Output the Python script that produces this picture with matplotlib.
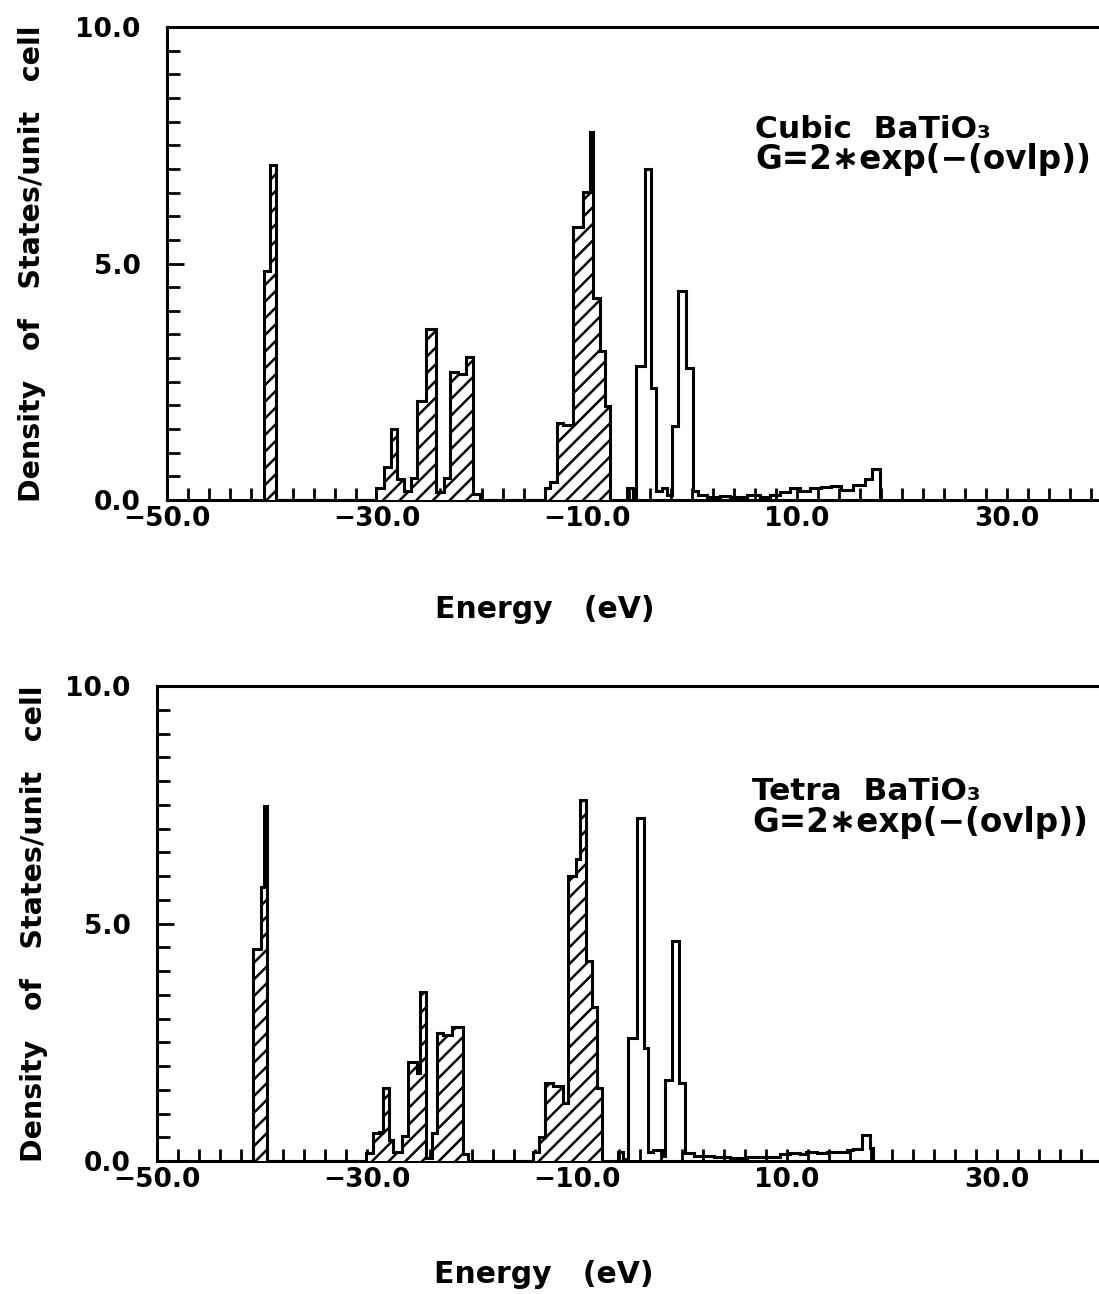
"""
Density of states histograms for cubic and tetragonal BaTiO3.
Hatched bins = occupied states (below E_F), open bins = empty states.
Writes out.png.
"""

import numpy as np
import matplotlib
matplotlib.use("Agg")
import matplotlib.pyplot as plt

# ══════════════════════════════════════════════════════════════════════════════
# DATA  (bin edges in eV, DOS per unit cell)
# ══════════════════════════════════════════════════════════════════════════════

# ── Cubic ────────────────────────────────────────────────────────────────────
cubic_occ_edges = [-40.8, -40.15, -39.6,
                   -30.1, -29.3, -28.65, -28.1, -27.4, -26.8, -26.2, -25.35,
                   -24.4, -23.6, -23.05, -22.3, -21.55, -20.85, -20.2,
                   -14.0, -13.5, -12.9, -12.25, -11.3, -10.35, -9.7, -9.4,
                   -8.75, -8.3, -7.8]
cubic_occ_dos = [4.84, 7.09,
                 0.0,
                 0.26, 0.69, 1.50, 0.44, 0.19, 0.47, 2.10, 3.62,
                 0.16, 0.47, 2.70, 2.67, 3.02, 0.12,
                 0.0,
                 0.25, 0.39, 1.63, 1.59, 5.77, 6.51, 7.78, 4.28,
                 3.15, 1.98]

cubic_emp_edges = [-6.2, -5.6, -5.35, -4.5, -3.95, -3.45, -2.9, -2.4, -1.95,
                   -1.3, -0.55, 0.05, 0.6, 1.4, 2.65, 3.6, 5.2, 6.5, 7.45,
                   8.4, 9.35, 10.3, 11.25, 12.25, 13.2, 14.15, 15.35, 16.5,
                   17.1, 17.9]
cubic_emp_dos = [0.25, 0.05, 2.83, 7.0, 2.37, 0.18, 0.25, 0.1,
                 1.56, 4.42, 2.8, 0.18, 0.11, 0.07, 0.08, 0.07, 0.1, 0.07,
                 0.1, 0.16, 0.25, 0.18, 0.25, 0.28, 0.3, 0.21, 0.32,
                 0.44, 0.65]

# ── Tetragonal ───────────────────────────────────────────────────────────────
tetra_occ_edges = [-40.85, -40.1, -39.85, -39.5,
                   -30.05, -29.4, -28.9, -28.45, -27.95, -27.5, -26.7, -26.05,
                   -25.25, -24.95, -24.4, -23.85, -23.35, -22.75, -21.95,
                   -20.85, -20.35,
                   -14.15, -13.6, -13.05, -12.25, -11.3, -10.85, -10.05, -9.7,
                   -9.1, -8.6, -8.1, -7.65]
tetra_occ_dos = [4.47, 5.76, 7.47,
                 0.0,
                 0.17, 0.59, 0.62, 1.54, 0.45, 0.2, 0.52, 2.09,
                 1.85, 3.56, 0.07, 0.59, 2.69, 2.65, 2.83, 0.14,
                 0.0,
                 0.2, 0.5, 1.64, 1.57, 1.22, 6.0, 6.35, 7.6,
                 4.22, 3.24, 1.54]

tetra_emp_edges = [-6.05, -5.6, -5.1, -4.3, -3.6, -3.2, -2.75, -1.8, -1.6,
                   -0.98, -0.25, 0.3, 1.1, 3.0, 4.55, 6.15, 7.75, 9.35, 10.3,
                   11.25, 11.85, 12.85, 13.8, 14.75, 15.7, 16.3, 17.1, 17.9,
                   18.2]
tetra_emp_dos = [0.2, 0.05, 2.58, 7.22, 2.37, 0.2, 0.24, 0.1, 1.7, 4.64,
                 1.64, 0.17, 0.1, 0.09, 0.07, 0.08, 0.08, 0.14, 0.17, 0.14,
                 0.2, 0.17, 0.2, 0.18, 0.24, 0.26, 0.55, 0.28]

panel_titles = ["Cubic  BaTiO\u2083", "Tetra  BaTiO\u2083"]
panel_note   = "G=2\u2217exp(\u2212(ovlp))"
x_labelled   = [-50, -30, -10, 10, 30]   # 50.0 falls off the cropped edge

# ══════════════════════════════════════════════════════════════════════════════
# STYLE
# ══════════════════════════════════════════════════════════════════════════════
W, H = 1099, 1294
LW   = 2.2
plt.rcParams["font.family"] = "DejaVu Sans"
plt.rcParams["font.weight"] = "bold"
plt.rcParams["hatch.linewidth"] = 1.8
plt.rcParams["hatch.color"] = "black"


def draw_panel(ax, occ_edges, occ_dos, emp_edges, emp_dos, title,
               ylab_x, xlab_pos, text_xy):
    ax.stairs(occ_dos, occ_edges, baseline=0, fill=True,
              facecolor="white", edgecolor="black", hatch="//",
              linewidth=LW, zorder=3)
    ax.stairs(emp_dos, emp_edges, baseline=0, fill=True,
              facecolor="none", edgecolor="black", linewidth=LW, zorder=3)

    ax.set_xlim(-50, 50)
    ax.set_ylim(0, 10)
    for side in ("top", "bottom", "left"):
        ax.spines[side].set_linewidth(LW)
    ax.spines["right"].set_visible(False)

    ax.set_xticks(x_labelled)
    ax.set_xticklabels([f"{v:.1f}".replace("-", "\u2212") for v in x_labelled])
    ax.set_xticks(np.arange(-50, 51, 2), minor=True)
    ax.set_yticks([0, 5, 10])
    ax.set_yticklabels(["0.0", "5.0", "10.0"])
    ax.set_yticks(np.arange(0, 10.01, 0.5), minor=True)

    ax.tick_params(axis="x", which="both", direction="in", length=9,
                   width=2, labelsize=19, pad=4, top=False)
    ax.tick_params(axis="y", which="major", direction="in", length=12,
                   width=2, labelsize=19, pad=19, right=False)
    ax.tick_params(axis="y", which="minor", direction="in", length=9,
                   width=2, right=False)

    ax.set_ylabel("Density   of   States/unit   cell", fontsize=20.5,
                  fontweight="bold")
    ax.yaxis.set_label_coords(ylab_x, 0.5)
    ax.set_xlabel("Energy   (eV)", fontsize=21.5, fontweight="bold")
    ax.xaxis.set_label_coords(*xlab_pos)

    tx, ty1, ty2 = text_xy
    ax.text(tx, ty1, title, fontsize=22.5, fontweight="bold", va="baseline")
    ax.text(tx, ty2, panel_note, fontsize=23.5, fontweight="bold",
            va="baseline")


def main():
    fig = plt.figure(figsize=(W / 100, H / 100), dpi=100)

    # axes run past the right edge like the cropped scan
    ax1 = fig.add_axes([167 / W, 1 - 500 / H, 1050 / W, 473 / H])
    ax2 = fig.add_axes([157 / W, 1 - 1161 / H, 1050 / W, 475 / H])

    draw_panel(ax1, cubic_occ_edges, cubic_occ_dos,
               cubic_emp_edges, cubic_emp_dos, panel_titles[0],
               ylab_x=(46 - 167) / 1050, xlab_pos=(0.36, -0.2),
               text_xy=(6.0, 7.65, 7.0))
    draw_panel(ax2, tetra_occ_edges, tetra_occ_dos,
               tetra_emp_edges, tetra_emp_dos, panel_titles[1],
               ylab_x=(48 - 157) / 1050, xlab_pos=(0.368, -0.208),
               text_xy=(6.7, 7.6, 6.93))

    fig.savefig("out.png", dpi=100)
    plt.close(fig)


if __name__ == "__main__":
    main()
